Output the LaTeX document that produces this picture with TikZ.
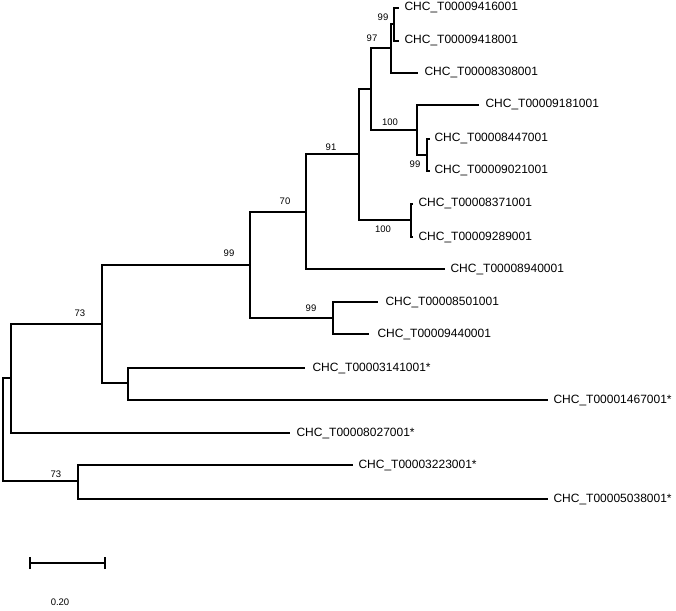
\documentclass[tikz,border=0pt]{standalone}
\usepackage{fontspec}
\setmainfont{Liberation Sans}
\usetikzlibrary{positioning}

\begin{document}
\begin{tikzpicture}[x=1pt, y=-1pt, line width=1.1pt,
  taxon/.style={inner sep=0pt, font=\fontsize{12}{14}\selectfont},
  boot/.style={inner sep=0pt, font=\fontsize{9.5}{11}\selectfont}]
  \useasboundingbox (0,0) rectangle (676,610);

  % noeuds internes
  \coordinate (root) at (3,430);
  \coordinate (nA) at (11,378);
  \coordinate (n73a) at (102,324);
  \coordinate (nB) at (128,383);
  \coordinate (n99a) at (250,265);
  \coordinate (n99e) at (333,318);
  \coordinate (n70) at (306,212);
  \coordinate (n91) at (359,154);
  \coordinate (n100b) at (411,220);
  \coordinate (nC) at (371,89);
  \coordinate (n97) at (391,48);
  \coordinate (n99t) at (394,24);
  \coordinate (n100a) at (417,130);
  \coordinate (n99b) at (427,155);
  \coordinate (n73b) at (78,481);

  % feuilles
  \coordinate (t1) at (399,8);
  \coordinate (t2) at (399,41);
  \coordinate (t3) at (418,73);
  \coordinate (t4) at (479,105);
  \coordinate (t5) at (430,139);
  \coordinate (t6) at (430,171);
  \coordinate (t7) at (413,204);
  \coordinate (t8) at (413,237);
  \coordinate (t9) at (445,269);
  \coordinate (t10) at (378,302);
  \coordinate (t11) at (369,334);
  \coordinate (t12) at (305,368);
  \coordinate (t13) at (548,400);
  \coordinate (t14) at (290,433);
  \coordinate (t15) at (353,465);
  \coordinate (t16) at (548,499);

  % branches
  \foreach \p/\c in {root/nA, root/n73b, nA/n73a, nA/t14, n73a/n99a, n73a/nB,
    nB/t12, nB/t13, n99a/n70, n99a/n99e, n99e/t10, n99e/t11, n70/n91, n70/t9,
    n91/nC, n91/n100b, n100b/t7, n100b/t8, nC/n97, nC/n100a, n97/n99t, n97/t3,
    n99t/t1, n99t/t2, n100a/t4, n100a/n99b, n99b/t5, n99b/t6, n73b/t15, n73b/t16}
    \draw (\p) |- (\c);

  % noms des sequences
  \node[taxon, right=5pt of t1] (l1) {CHC\_T00009416001};
  \node[taxon, right=5pt of t2] (l2) {CHC\_T00009418001};
  \node[taxon, right=6pt of t3] (l3) {CHC\_T00008308001};
  \node[taxon, right=6pt of t4] (l4) {CHC\_T00009181001};
  \node[taxon, right=4pt of t5] (l5) {CHC\_T00008447001};
  \node[taxon, right=4pt of t6] (l6) {CHC\_T00009021001};
  \node[taxon, right=5pt of t7] (l7) {CHC\_T00008371001};
  \node[taxon, right=5pt of t8] (l8) {CHC\_T00009289001};
  \node[taxon, right=5pt of t9] (l9) {CHC\_T00008940001};
  \node[taxon, right=7pt of t10] (l10) {CHC\_T00008501001};
  \node[taxon, right=8pt of t11] (l11) {CHC\_T00009440001};
  \node[taxon, right=7pt of t12] (l12) {CHC\_T00003141001*};
  \node[taxon, right=5pt of t13] (l13) {CHC\_T00001467001*};
  \node[taxon, right=6pt of t14] (l14) {CHC\_T00008027001*};
  \node[taxon, right=5pt of t15] (l15) {CHC\_T00003223001*};
  \node[taxon, right=5pt of t16] (l16) {CHC\_T00005038001*};

  % valeurs de bootstrap
  \node[boot] (b99t) at ([shift={(-11,-7)}]n99t) {99};
  \node[boot] (b97) at ([shift={(-19,-10)}]n97) {97};
  \node[boot] (b100a) at ([shift={(-27,-8)}]n100a) {100};
  \node[boot] (b99b) at ([shift={(-12,9)}]n99b) {99};
  \node[boot] (b91) at ([shift={(-28,-7)}]n91) {91};
  \node[boot] (b100b) at ([shift={(-28,9)}]n100b) {100};
  \node[boot] (b70) at ([shift={(-21,-11)}]n70) {70};
  \node[boot] (b99a) at ([shift={(-21,-12)}]n99a) {99};
  \node[boot] (b99e) at ([shift={(-22,-10)}]n99e) {99};
  \node[boot] (b73a) at ([shift={(-22,-11)}]n73a) {73};
  \node[boot] (b73b) at ([shift={(-22,-7)}]n73b) {73};

  % echelle
  \coordinate (s0) at (30,563);
  \coordinate (s1) at (105,563);
  \draw (s0) -- (s1);
  \draw ([yshift=-6pt]s0) -- ([yshift=6pt]s0);
  \draw ([yshift=-6pt]s1) -- ([yshift=6pt]s1);
  \node[boot] (scale) at (60,602) {0.20};
\end{tikzpicture}
\end{document}
